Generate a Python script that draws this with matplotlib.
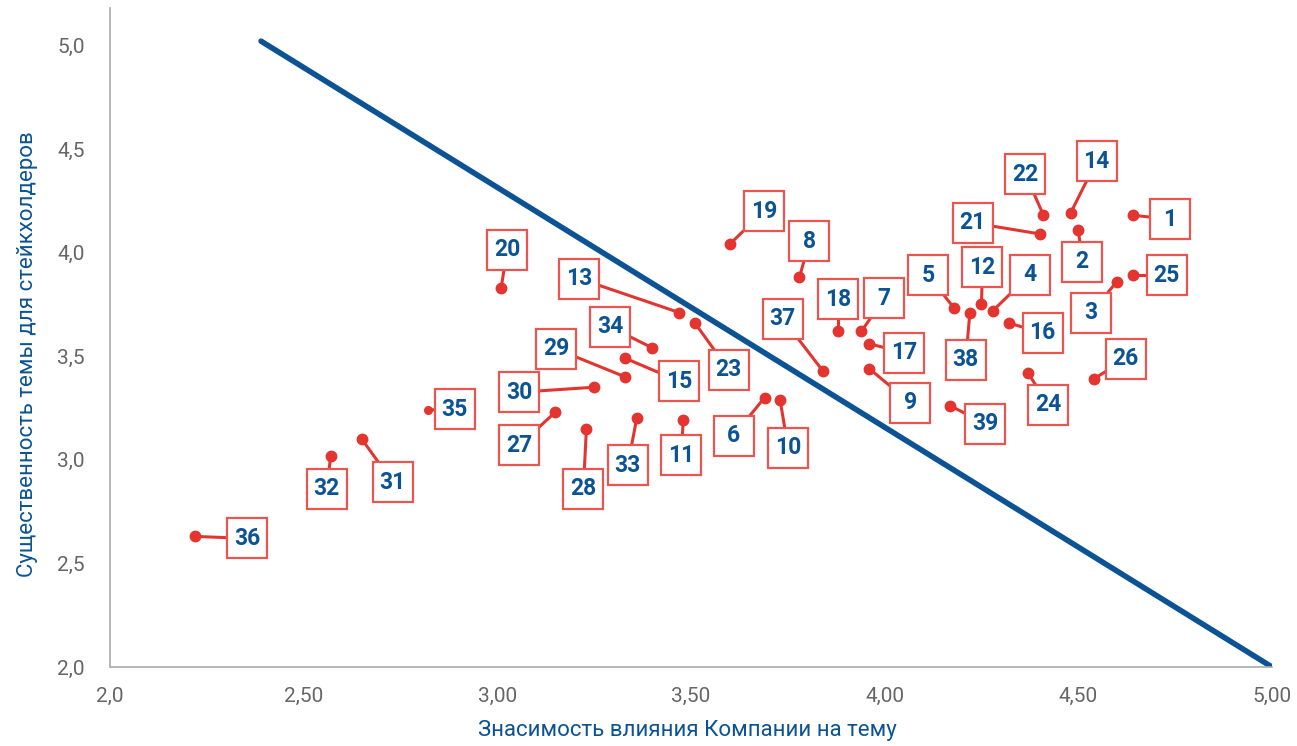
import numpy as np
import matplotlib
matplotlib.use("Agg")
import matplotlib.pyplot as plt
from matplotlib.transforms import offset_copy

# topics: id, company impact (x), stakeholder importance (y)
topic_ids = list(range(1, 40))
impact = [4.64, 4.50, 4.60, 4.28, 4.18, 3.69, 3.94, 3.78, 3.96, 3.73,
          3.48, 4.25, 3.47, 4.48, 3.33, 4.32, 3.96, 3.88, 3.60, 3.01,
          4.40, 4.41, 3.51, 4.37, 4.64, 4.54, 3.15, 3.23, 3.33, 3.25,
          2.65, 2.57, 3.36, 3.40, 2.82, 2.22, 3.84, 4.22, 4.17]
importance = [4.18, 4.11, 3.86, 3.72, 3.73, 3.30, 3.62, 3.88, 3.44, 3.29,
              3.19, 3.75, 3.71, 4.19, 3.49, 3.66, 3.56, 3.62, 4.04, 3.83,
              4.09, 4.18, 3.66, 3.42, 3.89, 3.39, 3.23, 3.15, 3.40, 3.35,
              3.10, 3.02, 3.20, 3.54, 3.24, 2.63, 3.43, 3.71, 3.26]

# threshold line
line_x = [2.39, 5.0]
line_y = [5.02, 2.0]

# label box offsets from the dot, in pixels (right, up)
label_dx = [37, 4, -26, 37, -26, -31, 23, 10, 41, 8,
            -2, 1, -100, 26, 54, 34, 35, 0, 34, 6,
            -67, -18, 34, 20, 34, 32, -36, -3, -69, -75,
            31, -4, -9, -42, 27, 52, -40, -4, 35]
label_dy = [-4, -32, -31, 36, 33, -38, 33, 36, -34, -48,
            -35, 37, 34, 52, -23, -10, -9, 32, 33, 38,
            11, 41, -47, -32, 0, 20, -33, -60, 28, -5,
            -43, -33, -47, 21, 1, -2, 52, -47, -18]

blue = "#0b5394"
red = "#e3342f"
box_red = "#ea5550"
gray = "#666666"

plt.rcParams["font.family"] = ["Roboto", "DejaVu Sans"]

fig = plt.figure(figsize=(12.97, 7.46), dpi=100)
ax = fig.add_axes([0.0848, 0.1059, 0.8959, 0.8834])
ax.set_xlim(2.0, 5.0)
ax.set_ylim(2.0, 5.18)

ax.plot(line_x, line_y, color=blue, lw=4, solid_capstyle="round", zorder=2)

for i, tid in enumerate(topic_ids):
    x, y = impact[i], importance[i]
    tr = offset_copy(ax.transData, fig=fig, x=label_dx[i], y=label_dy[i], units="dots")
    # connector from dot to label centre (box covers the inner part)
    p0 = ax.transData.transform((x, y))
    p1 = p0 + np.array([label_dx[i], label_dy[i]])
    q = ax.transData.inverted().transform([p0, p1])
    ax.plot(q[:, 0], q[:, 1], color=red, lw=2.2, zorder=3)
    ax.plot([x], [y], "o", color=red, ms=7.5 if tid != 35 else 5.5, zorder=4)
    ax.plot([x], [y], "s", ms=29.5, mfc="white", mec=box_red, mew=1.6,
            transform=tr, zorder=5, clip_on=False)
    ax.text(x, y, str(tid), transform=tr, ha="center", va="center",
            fontsize=16.5, fontweight="bold", color=blue, zorder=6)

ax.set_xticks([2.0, 2.5, 3.0, 3.5, 4.0, 4.5, 5.0])
ax.set_xticklabels(["2,0", "2,50", "3,00", "3,50", "4,00", "4,50", "5,00"])
ax.set_yticks([2.0, 2.5, 3.0, 3.5, 4.0, 4.5, 5.0])
ax.set_yticklabels(["2,0", "2,5", "3,0", "3,5", "4,0", "4,5", "5,0"])
ax.tick_params(length=0, labelsize=15, labelcolor=gray, pad=18)
ax.tick_params(axis="x", pad=14)

for s in ["top", "right"]:
    ax.spines[s].set_visible(False)
for s in ["left", "bottom"]:
    ax.spines[s].set_color("#aaaaaa")
    ax.spines[s].set_linewidth(1.2)

ax.set_xlabel("Знасимость влияния Компании на тему", color=blue, fontsize=16)
ax.set_ylabel("Существенность темы для стейкхолдеров", color=blue, fontsize=16)
ax.xaxis.set_label_coords(0.497, -0.097)
ax.yaxis.set_label_coords(-0.0706, 0.475)
ax.xaxis.label.set_va("center")
ax.yaxis.label.set_va("center")

fig.savefig("out.png", dpi=100)
